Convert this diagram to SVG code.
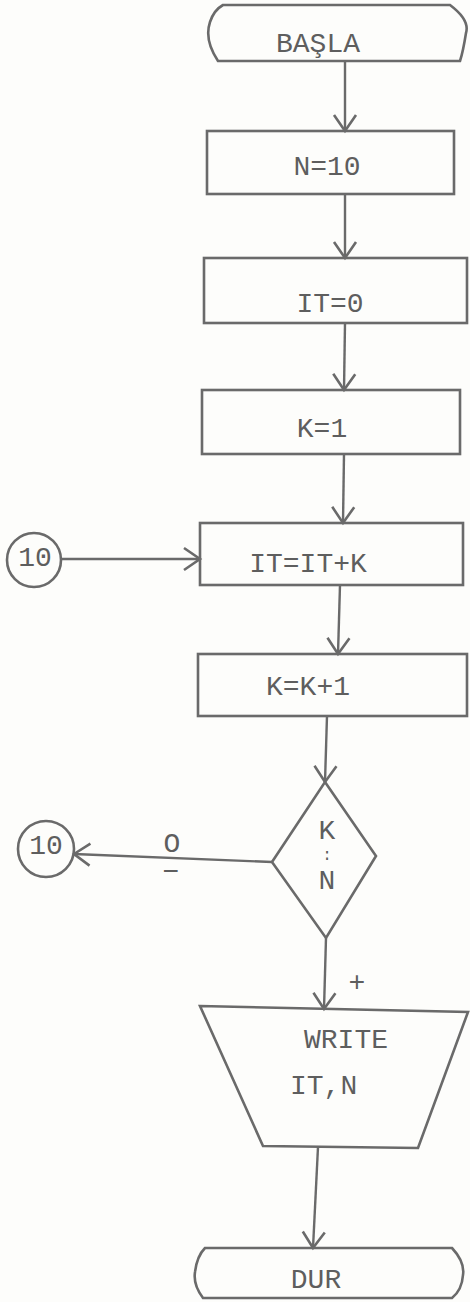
<svg xmlns="http://www.w3.org/2000/svg" width="470" height="1302" viewBox="0 0 470 1302">
<style>
.shape{fill:none;stroke:#6a6a6a;stroke-width:2.6;stroke-linejoin:miter}
.conn{fill:none;stroke:#6a6a6a;stroke-width:2.4}
text{font-family:"Liberation Mono","DejaVu Sans Mono",monospace;fill:#5e5e5e;font-size:28px;text-anchor:middle}
</style>
<defs>
<marker id="arr" markerUnits="userSpaceOnUse" markerWidth="40" markerHeight="40" viewBox="-20 -20 40 40" refX="0" refY="0" orient="auto">
<path d="M-16,-11 L0,0 L-16,11" fill="none" stroke="#6a6a6a" stroke-width="2.6"/>
</marker>
</defs>
<rect width="470" height="1302" fill="#fdfdfb"/>
<g id="connectors">
<path class="conn" d="M345,61 L345,131" marker-end="url(#arr)"/>
<path class="conn" d="M345,194 L345,258" marker-end="url(#arr)"/>
<path class="conn" d="M345,323 L344,390" marker-end="url(#arr)"/>
<path class="conn" d="M344,454 L343,523" marker-end="url(#arr)"/>
<path class="conn" d="M61,559 L200,559" marker-end="url(#arr)"/>
<path class="conn" d="M340,585 L338,654" marker-end="url(#arr)"/>
<path class="conn" d="M327,716 L325,782" marker-end="url(#arr)"/>
<path class="conn" d="M272,862 L74,854" marker-end="url(#arr)"/>
<path class="conn" d="M326,938 L324,1009" marker-end="url(#arr)"/>
<path class="conn" d="M318,1147 L313,1248" marker-end="url(#arr)"/>
<text x="172" y="852" font-size="26">O</text>
<text x="171" y="880">−</text>
<text x="357" y="991" font-size="26">+</text>
</g>
<g id="start">
<path class="shape" d="M223,5 L450,5 Q470,20 466,33 Q463,52 460,61 L218,61 Q204,40 210,22 Q214,10 223,5 Z"/>
<text x="318" y="52">BAŞLA</text>
</g>
<g id="n10">
<rect class="shape" x="207" y="131" width="247" height="63"/>
<text x="327" y="175">N=10</text>
</g>
<g id="it0">
<rect class="shape" x="204" y="258" width="263" height="65"/>
<text x="330" y="312">IT=0</text>
</g>
<g id="k1">
<rect class="shape" x="202" y="390" width="258" height="64"/>
<text x="322" y="437">K=1</text>
</g>
<g id="itsum">
<rect class="shape" x="200" y="523" width="263" height="62"/>
<text x="308" y="572">IT=IT+K</text>
</g>
<g id="kinc">
<rect class="shape" x="198" y="654" width="269" height="62"/>
<text x="308" y="695">K=K+1</text>
</g>
<g id="decision">
<path class="shape" d="M325,782 L376,856 L326,938 L272,862 Z"/>
<text font-size="24"><tspan x="327" y="839">K</tspan><tspan x="327" y="860" font-size="16">:</tspan><tspan x="327" y="889">N</tspan></text>
</g>
<g id="conn-in">
<circle class="shape" cx="34" cy="560" r="27"/>
<text x="35" y="566" font-size="22">10</text>
</g>
<g id="conn-out">
<circle class="shape" cx="46" cy="849" r="28"/>
<text x="46" y="854" font-size="26">10</text>
</g>
<g id="write">
<path class="shape" d="M200,1006 L468,1012 L418,1148 L263,1146 Z"/>
<text x="346" y="1048">WRITE</text>
<text x="290" y="1094" style="text-anchor:start">IT,N</text>
</g>
<g id="stop">
<path class="shape" d="M205,1248 L452,1248 Q465,1262 463,1275 Q462,1290 452,1298 L203,1298 Q193,1285 195,1272 Q197,1256 205,1248 Z"/>
<text x="316" y="1288">DUR</text>
</g>
</svg>
